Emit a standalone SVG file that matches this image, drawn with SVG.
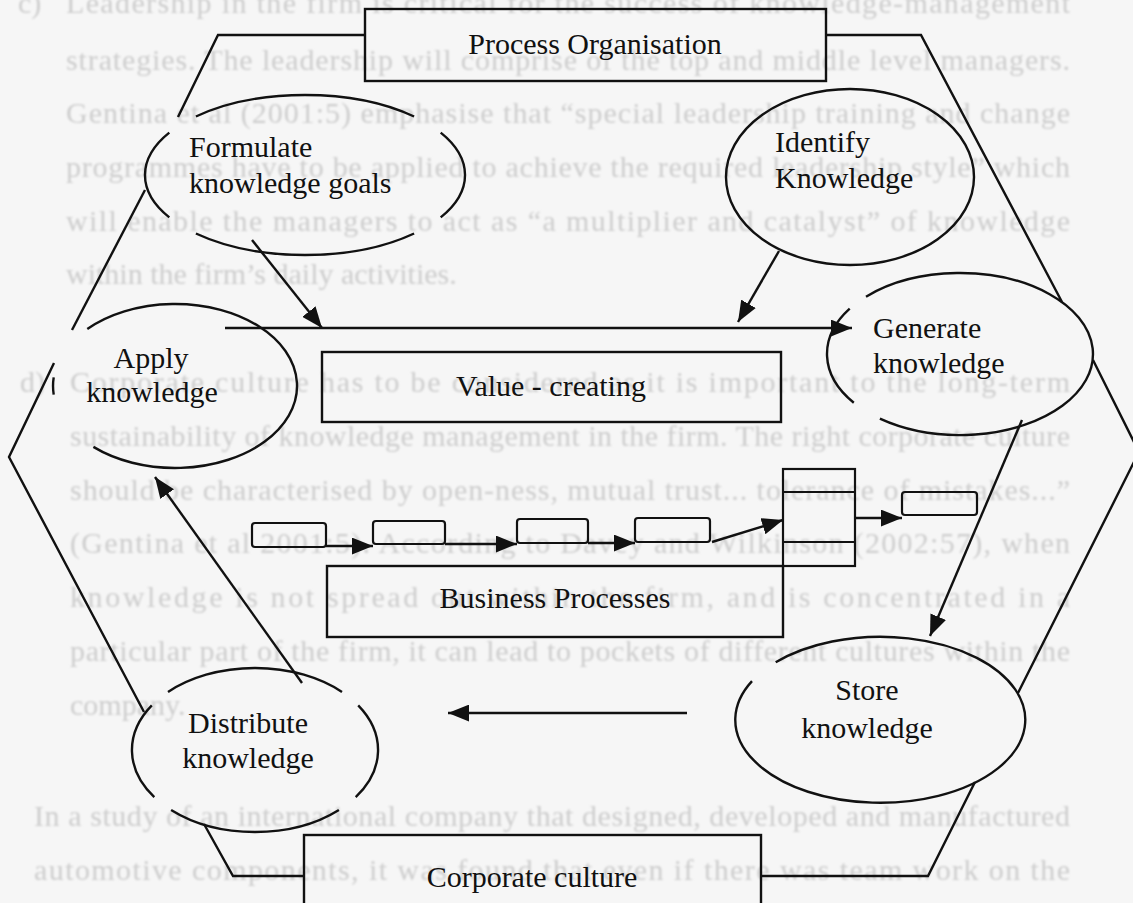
<svg xmlns="http://www.w3.org/2000/svg" width="1133" height="903" viewBox="0 0 1133 903">
  <defs>
    <marker id="arrow" viewBox="0 0 20 16" refX="20" refY="8" markerWidth="21" markerHeight="17" markerUnits="userSpaceOnUse" orient="auto">
      <path d="M0,0 L20,8 L0,16 z" fill="#111"/>
    </marker>
    <filter id="soft" x="-2%" y="-10%" width="104%" height="120%">
      <feGaussianBlur stdDeviation="1"/>
    </filter>
    <style>
      .ln{fill:none;stroke:#111;stroke-width:2.4;stroke-linejoin:miter}
      .ar{fill:none;stroke:#111;stroke-width:2.4;marker-end:url(#arrow)}
      .box{fill:none;stroke:#111;stroke-width:2.4}
      .sm{fill:none;stroke:#111;stroke-width:2.2}
      .lbl{font-family:"Liberation Serif","Times New Roman",serif;font-size:30px;fill:#111}
      .mid{text-anchor:middle}
      .page{font-family:"Liberation Serif","Times New Roman",serif;font-size:30px;fill:#cdcdcd}
    </style>
  </defs>

  <rect width="1133" height="903" fill="#f6f6f6"/>

  <!-- body text of the page printed behind the figure -->
  <g id="page-text" class="page" filter="url(#soft)">
    <text x="18" y="13">c)</text>
    <text x="66" y="13" textLength="1004" lengthAdjust="spacing">Leadership in the firm is critical for the success of knowledge-management</text>
    <text x="66" y="70" textLength="1004" lengthAdjust="spacing">strategies. The leadership will comprise of the top and middle level managers.</text>
    <text x="66" y="123" textLength="1004" lengthAdjust="spacing">Gentina et al (2001:5) emphasise that “special leadership training and change</text>
    <text x="66" y="177" textLength="1004" lengthAdjust="spacing">programmes have to be applied to achieve the required leadership style” which</text>
    <text x="66" y="231" textLength="1004" lengthAdjust="spacing">will enable the managers to act as “a multiplier and catalyst” of knowledge</text>
    <text x="66" y="284">within the firm’s daily activities.</text>
    <text x="20" y="392">d)</text>
    <text x="70" y="392" textLength="1000" lengthAdjust="spacing">Corporate culture has to be considered as it is important to the long-term</text>
    <text x="70" y="446" textLength="1000" lengthAdjust="spacing">sustainability of knowledge management in the firm. The right corporate culture</text>
    <text x="70" y="500" textLength="1000" lengthAdjust="spacing">should be characterised by open-ness, mutual trust... tolerance of mistakes...”</text>
    <text x="70" y="553" textLength="1000" lengthAdjust="spacing">(Gentina et al 2001:5). According to Davey and Wilkinson (2002:57), when</text>
    <text x="70" y="607" textLength="1000" lengthAdjust="spacing">knowledge is not spread out within the firm, and is concentrated in a</text>
    <text x="70" y="661" textLength="1000" lengthAdjust="spacing">particular part of the firm, it can lead to pockets of different cultures within the</text>
    <text x="70" y="715">company.</text>
    <text x="34" y="826" textLength="1036" lengthAdjust="spacing">In a study of an international company that designed, developed and manufactured</text>
    <text x="34" y="880" textLength="1036" lengthAdjust="spacing">automotive components, it was found that even if there was team work on the</text>
  </g>

  <!-- outer frame linking the top and bottom boxes -->
  <g id="frame" class="ln">
    <polyline points="365,35 218,35 178,117"/>
    <polyline points="145,190 72,330"/>
    <polyline points="54,363 9,457 144,712"/>
    <polyline points="204,824 233,876 304,876"/>
    <polyline points="826,35 921,35 1062,302"/>
    <polyline points="1093,360 1139,452 1018,693"/>
    <polyline points="975,782 928,876 761,876"/>
  </g>

  <g id="process-organisation">
    <rect class="box" x="365" y="9" width="461" height="72"/>
    <text class="lbl mid" x="595" y="54">Process Organisation</text>
  </g>

  <g id="formulate-goals">
    <path class="ln" d="M440.7 132.6 A160 80 0 0 1 440.7 217.4 M414.1 233.5 A160 80 0 0 1 195.9 233.5 M169.3 217.4 A160 80 0 0 1 169.3 132.6 M195.9 116.5 A160 80 0 0 1 414.1 116.5"/>
    <text class="lbl" x="189" y="157">Formulate</text>
    <text class="lbl" x="189" y="193">knowledge goals</text>
  </g>

  <g id="identify-knowledge">
    <ellipse class="ln" cx="850" cy="177" rx="124" ry="88"/>
    <text class="lbl" x="775" y="152">Identify</text>
    <text class="lbl" x="775" y="188">Knowledge</text>
  </g>

  <g id="apply-knowledge">
    <path class="ln" d="M87.3 329 A122 82 0 1 1 93.4 446.9 M53.7 394.6 A122 82 0 0 1 53.7 377.4"/>
    <text class="lbl mid" x="151" y="368">Apply</text>
    <text class="lbl mid" x="152" y="402">knowledge</text>
  </g>

  <g id="value-creating">
    <rect class="box" x="322" y="352" width="459" height="70"/>
    <text class="lbl mid" x="551" y="396">Value - creating</text>
  </g>

  <g id="generate-knowledge">
    <path class="ln" d="M866 296.7 A133 81 0 1 1 879.9 418.7 M853.8 402.7 A133 81 0 0 1 849.7 308.7"/>
    <text class="lbl" x="873" y="338">Generate</text>
    <text class="lbl" x="873" y="373">knowledge</text>
  </g>

  <g id="process-steps">
    <rect class="sm" x="252" y="523" width="74" height="24" rx="3"/>
    <rect class="sm" x="373" y="521" width="72" height="23" rx="3"/>
    <rect class="sm" x="517" y="519" width="71" height="24" rx="3"/>
    <rect class="sm" x="635" y="518" width="75" height="24" rx="3"/>
    <rect class="sm" x="783" y="469" width="72" height="97"/>
    <line class="sm" x1="783" y1="492" x2="855" y2="492"/>
    <line class="sm" x1="783" y1="542" x2="855" y2="542"/>
    <rect class="sm" x="902" y="492" width="75" height="23" rx="3"/>
  </g>

  <g id="business-processes">
    <rect class="box" x="327" y="566" width="456" height="71"/>
    <text class="lbl mid" x="555" y="608">Business Processes</text>
  </g>

  <g id="store-knowledge">
    <path class="ln" d="M775.7 662.3 A145 83 0 1 1 752 681.1"/>
    <text class="lbl mid" x="867" y="700">Store</text>
    <text class="lbl mid" x="867" y="738">knowledge</text>
  </g>

  <g id="distribute-knowledge">
    <path class="ln" d="M358.2 705.3 A123 82 0 0 1 355.7 797.1 M338.9 809.9 A123 82 0 0 1 171.1 809.9 M154.3 797.1 A123 82 0 0 1 151.8 705.3 M168 692 A123 82 0 0 1 342 692"/>
    <text class="lbl mid" x="248" y="733">Distribute</text>
    <text class="lbl mid" x="248" y="768">knowledge</text>
  </g>

  <g id="corporate-culture">
    <rect class="box" x="304" y="835" width="457" height="90"/>
    <text class="lbl mid" x="532" y="887">Corporate culture</text>
  </g>

  <g id="connectors">
    <line class="ar" x1="252" y1="240" x2="322" y2="328"/>
    <line class="ar" x1="779" y1="251" x2="738" y2="322"/>
    <line class="ar" x1="225" y1="328" x2="852" y2="328"/>
    <line class="ar" x1="1022" y1="420" x2="930" y2="636"/>
    <line class="ar" x1="687" y1="713" x2="448" y2="713"/>
    <line class="ar" x1="302" y1="683" x2="155" y2="477"/>
    <line class="ar" x1="326" y1="546" x2="373" y2="546"/>
    <line class="ar" x1="445" y1="544" x2="517" y2="544"/>
    <line class="ar" x1="588" y1="543" x2="635" y2="543"/>
    <line class="ar" x1="712" y1="542" x2="783" y2="520"/>
    <line class="ar" x1="855" y1="518" x2="902" y2="518"/>
  </g>
</svg>
